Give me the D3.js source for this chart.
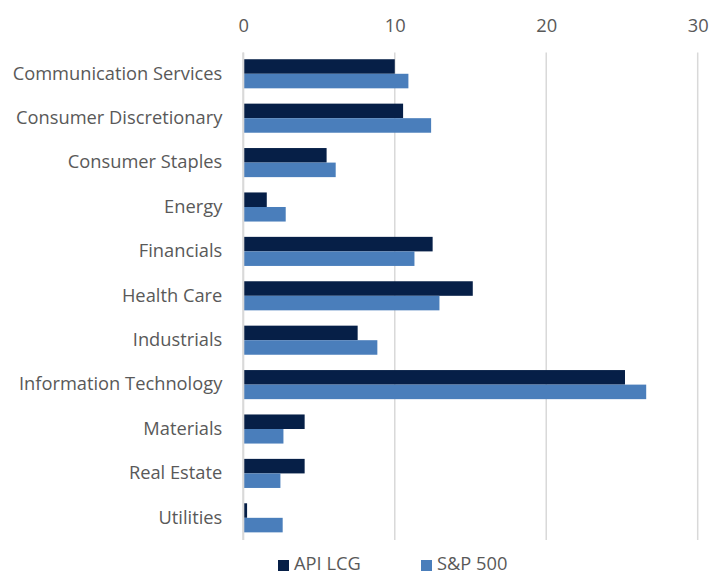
<!DOCTYPE html>
<html>
<head>
<meta charset="utf-8">
<script src="https://cdn.jsdelivr.net/npm/d3@7"></script>
<style>
  body { margin: 0; background: #fff; }
  text { font-family: "Open Sans", sans-serif; fill: #595959; }
</style>
</head>
<body>
<div id="chart"></div>
<script>
// sector weights, percent
var categories = ["Communication Services", "Consumer Discretionary", "Consumer Staples", "Energy",
    "Financials", "Health Care", "Industrials", "Information Technology", "Materials",
    "Real Estate", "Utilities"];
var seriesNames = ["API LCG", "S&P 500"];
var apiLcg = [10.0, 10.55, 5.5, 1.55, 12.5, 15.15, 7.55, 25.2, 4.05, 4.05, 0.25];
var sp500 = [10.9, 12.4, 6.1, 2.8, 11.3, 12.95, 8.85, 26.6, 2.65, 2.45, 2.6];
var tickValues = [0, 10, 20, 30];
var colors = ["#061f47", "#4a7ebb"];

var width = 710, height = 575;
var margin = { left: 243.3, right: 12.3, top: 51.6, bottom: 35 };
var fontSize = "18.3px";

var svg = d3.select("#chart").append("svg")
    .attr("width", width)
    .attr("height", height);

var x = d3.scaleLinear()
    .domain([0, 30])
    .range([margin.left, width - margin.right]);

var y = d3.scaleBand()
    .domain(categories)
    .range([margin.top, height - margin.bottom])
    .paddingInner(0.345)
    .paddingOuter(0.172);

var ySub = d3.scaleBand()
    .domain(seriesNames)
    .range([0, y.bandwidth()]);

// gridlines
svg.append("g")
    .selectAll("line")
    .data(tickValues)
    .enter().append("line")
    .attr("x1", function(d) { return x(d); })
    .attr("x2", function(d) { return x(d); })
    .attr("y1", margin.top + 1)
    .attr("y2", height - margin.bottom)
    .style("stroke", "#d9d9d9")
    .style("stroke-width", 1.5);

// top axis labels
var xAxis = d3.axisTop(x).tickValues(tickValues).tickSize(0).tickPadding(0);
var gx = svg.append("g")
    .attr("transform", "translate(0,32)")
    .call(xAxis);
gx.select(".domain").remove();
gx.selectAll("text")
    .style("font-size", fontSize)
    .style("font-family", "'Open Sans', sans-serif")
    .style("fill", "#595959");

// category labels
var yAxis = d3.axisLeft(y).tickSize(0).tickPadding(21);
var gy = svg.append("g")
    .attr("transform", "translate(" + margin.left + ",0)")
    .call(yAxis);
gy.select(".domain").remove();
gy.selectAll("text")
    .style("font-size", fontSize)
    .style("font-family", "'Open Sans', sans-serif")
    .style("fill", "#595959");

// bars
var rows = categories.map(function(c, i) {
    return { cat: c, values: [
        { name: seriesNames[0], value: apiLcg[i] },
        { name: seriesNames[1], value: sp500[i] }
    ] };
});

var groups = svg.append("g")
    .selectAll("g")
    .data(rows)
    .enter().append("g")
    .attr("transform", function(d) { return "translate(0," + y(d.cat) + ")"; });

groups.selectAll("rect")
    .data(function(d) { return d.values; })
    .enter().append("rect")
    .attr("x", x(0))
    .attr("y", function(d) { return ySub(d.name); })
    .attr("width", function(d) { return x(d.value) - x(0); })
    .attr("height", ySub.bandwidth())
    .attr("fill", function(d, i) { return colors[i]; });

// zero axis line
svg.append("line")
    .attr("x1", x(0)).attr("x2", x(0))
    .attr("y1", margin.top + 1).attr("y2", height - margin.bottom)
    .style("stroke", "#d9d9d9")
    .style("stroke-width", 2);

// legend (kept a touch high so the text box stays inside the frame)
var legendPos = [278, 421];
var legend = svg.append("g")
    .selectAll("g")
    .data(seriesNames)
    .enter().append("g")
    .attr("transform", function(d, i) { return "translate(" + legendPos[i] + ",560)"; });

legend.append("rect")
    .attr("width", 11)
    .attr("height", 11)
    .attr("fill", function(d, i) { return colors[i]; });

legend.append("text")
    .attr("x", 16)
    .attr("y", 10)
    .style("font-size", fontSize)
    .text(function(d) { return d; });
</script>
</body>
</html>
